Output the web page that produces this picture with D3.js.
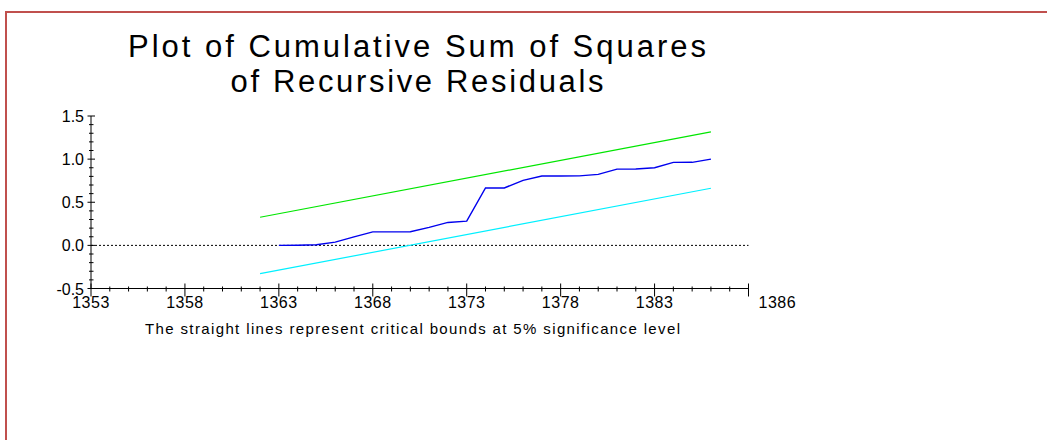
<!DOCTYPE html>
<html>
<head>
<meta charset="utf-8">
<script src="https://cdn.jsdelivr.net/npm/d3@7"></script>
<style>
  html, body { margin: 0; padding: 0; background: #fff; }
  svg { display: block; }
  text { font-family: "Liberation Sans", Arial, sans-serif; fill: #000; }
</style>
</head>
<body>
<svg id="chart" width="1047" height="440"></svg>
<script>
// ---- data ----
const titleLines = ["Plot of Cumulative Sum of Squares", "of Recursive Residuals"];
const footnote = "The straight lines represent critical bounds at 5% significance level";
const xTickLabels = [1353, 1358, 1363, 1368, 1373, 1378, 1383];
const xEndLabel = "1386";
const yTickLabels = ["-0.5", "0.0", "0.5", "1.0", "1.5"];
const years = [1363,1364,1365,1366,1367,1368,1369,1370,1371,1372,1373,1374,1375,1376,1377,1378,1379,1380,1381,1382,1383,1384,1385,1386];
const cusumsq = [0.000,0.002,0.007,0.037,0.099,0.157,0.157,0.158,0.208,0.266,0.281,0.665,0.666,0.754,0.804,0.805,0.806,0.823,0.884,0.885,0.900,0.962,0.963,1.000];
const boundYears = [1362, 1386];
const upperBound = [0.326, 1.316];
const lowerBound = [-0.328, 0.662];

// ---- drawing ----
const svg = d3.select("#chart");

// frame
svg.append("rect")
  .attr("x", 6).attr("y", 12)
  .attr("width", 1100).attr("height", 500)
  .attr("fill", "none").attr("stroke", "#c0504d").attr("stroke-width", 2);

const x = d3.scaleLinear().domain([1353, 1388]).range([91, 748.5]);
const y = d3.scaleLinear().domain([-0.5, 1.5]).range([288.5, 116]);

// title
const titleCfg = [{b: 57, w: 578}, {b: 92, w: 373}];
svg.selectAll("text.title").data(titleLines).join("text")
  .attr("class", "title")
  .attr("x", 417)
  .attr("y", (d, i) => titleCfg[i].b)
  .attr("text-anchor", "middle")
  .attr("font-size", 31)
  .attr("textLength", (d, i) => titleCfg[i].w)
  .attr("lengthAdjust", "spacing")
  .text(d => d);

// zero dotted line
svg.append("line")
  .attr("x1", x(1353)).attr("x2", x(1388))
  .attr("y1", y(0)).attr("y2", y(0))
  .attr("stroke", "#000").attr("stroke-width", 1)
  .attr("stroke-dasharray", "2,2");

// y axis
const gy = svg.append("g");
gy.append("line").attr("x1", x(1353)).attr("x2", x(1353))
  .attr("y1", y(-0.5)).attr("y2", y(1.5)).attr("stroke", "#000");
const yMinor = d3.range(-5, 16).map(v => v / 10);
const isMajorY = d => Math.abs(d * 2 - Math.round(d * 2)) < 1e-9;
gy.selectAll("line.ymin").data(yMinor).join("line")
  .attr("class", "ymin")
  .attr("x1", d => isMajorY(d) ? x(1353) - 3.5 : x(1353) - 2)
  .attr("x2", d => isMajorY(d) ? x(1353) + 4 : x(1353) + 2.5)
  .attr("y1", d => y(d)).attr("y2", d => y(d))
  .attr("stroke", "#000");
gy.selectAll("text").data(yTickLabels).join("text")
  .attr("x", 84).attr("y", d => y(+d) + 6)
  .attr("text-anchor", "end")
  .attr("font-size", 16)
  .text(d => d);

// x axis
const gx = svg.append("g");
gx.append("line").attr("x1", x(1353)).attr("x2", x(1388))
  .attr("y1", y(-0.5)).attr("y2", y(-0.5)).attr("stroke", "#000");
const xMinor = d3.range(1353, 1389);
gx.selectAll("line.xmin").data(xMinor).join("line")
  .attr("class", "xmin")
  .attr("x1", d => x(d)).attr("x2", d => x(d))
  .attr("y1", d => (d - 1353) % 5 === 0 ? y(-0.5) - 5 : y(-0.5) - 2)
  .attr("y2", d => (d - 1353) % 5 === 0 ? y(-0.5) + 8 : y(-0.5) + 3)
  .attr("stroke", "#000");
gx.selectAll("text.xl").data(xTickLabels).join("text")
  .attr("class", "xl")
  .attr("x", d => x(d)).attr("y", 308)
  .attr("text-anchor", "middle")
  .attr("font-size", 16)
  .attr("letter-spacing", 0.5)
  .text(d => d);
gx.append("text")
  .attr("x", x(1388) + 10).attr("y", 308)
  .attr("font-size", 16)
  .attr("letter-spacing", 0.5)
  .text(xEndLabel);

// bounds
const line = d3.line().x(d => x(d[0])).y(d => y(d[1]));
svg.append("path")
  .attr("d", line(boundYears.map((t, i) => [t, upperBound[i]])))
  .attr("fill", "none").attr("stroke", "#00e600").attr("stroke-width", 1.2);
svg.append("path")
  .attr("d", line(boundYears.map((t, i) => [t, lowerBound[i]])))
  .attr("fill", "none").attr("stroke", "#00f0ff").attr("stroke-width", 1.2);

// cusumsq
svg.append("path")
  .attr("d", line(years.map((t, i) => [t, cusumsq[i]])))
  .attr("fill", "none").attr("stroke", "#0000ee").attr("stroke-width", 1.4);

// footnote
svg.append("text")
  .attr("x", 145).attr("y", 333.5)
  .attr("font-size", 15)
  .attr("textLength", 535)
  .attr("lengthAdjust", "spacing")
  .text(footnote);
</script>
</body>
</html>
